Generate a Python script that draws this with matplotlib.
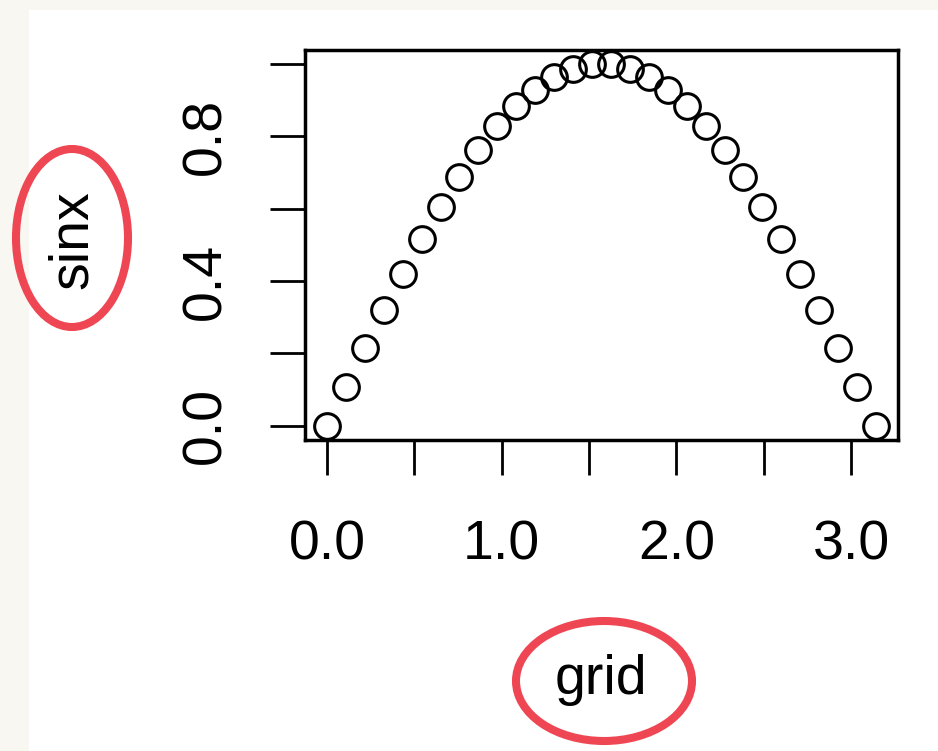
"""R-style scatter of sin(x) over a grid, with the axis labels circled in red."""
import matplotlib
matplotlib.use("Agg")
import matplotlib.pyplot as plt
from matplotlib.patches import Ellipse, Rectangle

# values
grid = [0.000, 0.108, 0.217, 0.325, 0.433, 0.542, 0.650, 0.758, 0.867, 0.975,
        1.083, 1.192, 1.300, 1.408, 1.517, 1.625, 1.733, 1.842, 1.950, 2.058,
        2.167, 2.275, 2.383, 2.492, 2.600, 2.708, 2.817, 2.925, 3.033, 3.142]
sinx = [0.000, 0.108, 0.215, 0.319, 0.420, 0.516, 0.605, 0.687, 0.762, 0.828,
        0.884, 0.929, 0.964, 0.987, 0.999, 0.999, 0.987, 0.964, 0.929, 0.884,
        0.828, 0.762, 0.687, 0.605, 0.516, 0.420, 0.319, 0.215, 0.108, 0.000]

x_ticks = [0.0, 0.5, 1.0, 1.5, 2.0, 2.5, 3.0]
x_ticklabels = ["0.0", "", "1.0", "", "2.0", "", "3.0"]
y_ticks = [0.0, 0.2, 0.4, 0.6, 0.8, 1.0]
y_ticklabels = ["0.0", "", "0.4", "", "0.8", ""]

W, H = 938, 751
RED = "#ef4653"
FS = 40
plt.rcParams["font.family"] = ["Liberation Sans", "DejaVu Sans"]

fig = plt.figure(figsize=(W / 100, H / 100), dpi=100)
fig.patch.set_facecolor("#f8f7f2")
# white page, leaving the thin off-white strip on the left and top
fig.patches.append(Rectangle((29 / W, 0), 1 - 29 / W, 1 - 10 / H,
                             transform=fig.transFigure, facecolor="white",
                             edgecolor="none", zorder=-10))


def px(x, y):
    return x / W, 1 - y / H


left, top = px(305, 50)
right, bottom = px(898, 440)
ax = fig.add_axes([left, bottom, right - left, top - bottom])
ax.set_facecolor("white")

ax.plot(grid, sinx, linestyle="none", marker="o", markersize=18.5,
        markerfacecolor="none", markeredgecolor="black", markeredgewidth=2.2,
        clip_on=False, zorder=3)

# R default: 4% padding around data range
xr = max(grid) - min(grid)
yr = max(sinx) - min(sinx)
ax.set_xlim(min(grid) - 0.04 * xr, max(grid) + 0.04 * xr)
ax.set_ylim(min(sinx) - 0.04 * yr, max(sinx) + 0.04 * yr)

for s in ax.spines.values():
    s.set_linewidth(2.5)

ax.set_xticks(x_ticks)
ax.set_xticklabels(x_ticklabels)
ax.set_yticks(y_ticks)
ax.set_yticklabels(y_ticklabels, rotation=90, va="center")
ax.tick_params(axis="both", direction="out", length=25, width=2.0,
               labelsize=FS)
ax.tick_params(axis="x", pad=32)
ax.tick_params(axis="y", pad=27)

fig.text(*px(73, 240), "sinx", rotation=90, fontsize=FS, ha="center", va="center")
fig.text(*px(601, 680), "grid", fontsize=FS, ha="center", va="center")

# red ellipses drawn around the axis titles (pixel coordinates)
for cx, cy, w, h in [(72, 238, 112, 178), (604, 681, 176, 120)]:
    fig.patches.append(Ellipse((cx, H - cy), w, h, transform=None,
                               facecolor="none", edgecolor=RED, linewidth=5.8,
                               zorder=5))

fig.savefig("out.png", dpi=100)
